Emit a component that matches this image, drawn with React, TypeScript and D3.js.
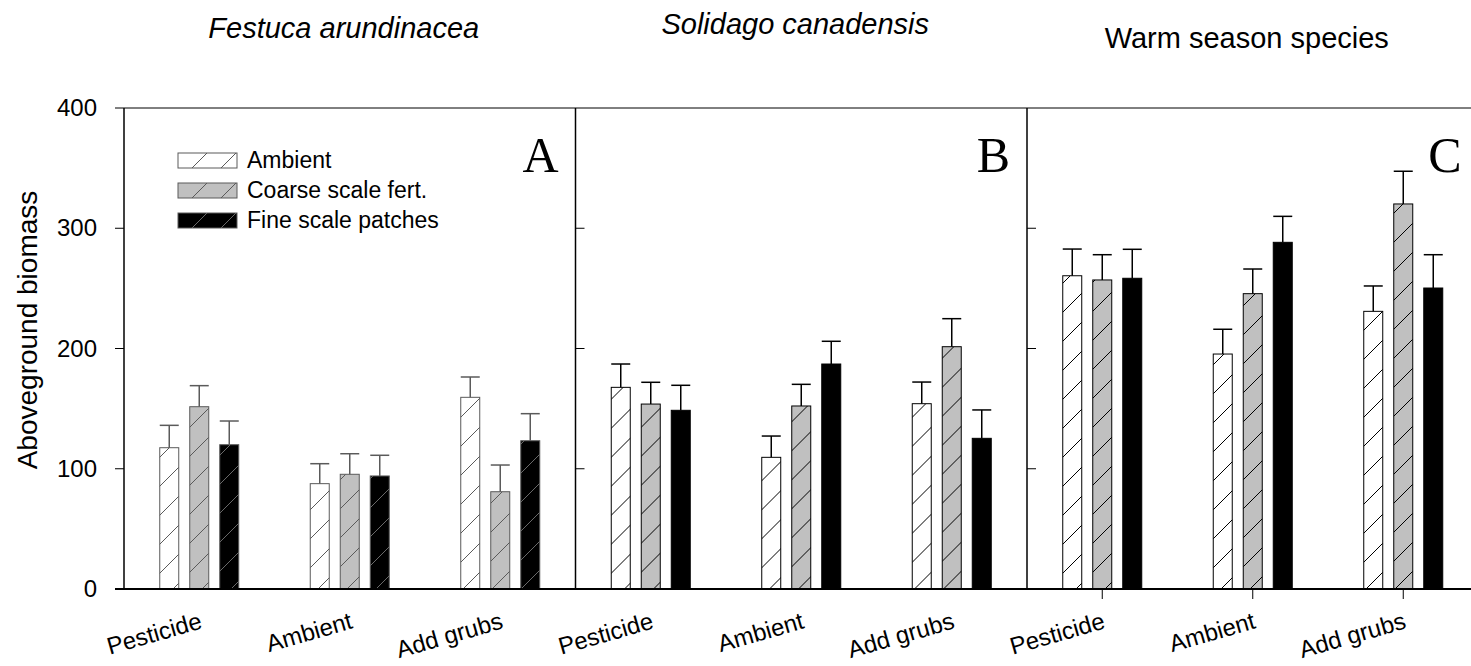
import * as d3 from 'd3';
import { useEffect, useRef } from 'react';

const panelNames = ['A', 'B', 'C'];
const panelTitles = ['Festuca arundinacea', 'Solidago canadensis', 'Warm season species'];
const treatments = ['Pesticide', 'Ambient', 'Add grubs'];
const seriesNames = ['Ambient', 'Coarse scale fert.', 'Fine scale patches'];
const yTicks = [0, 100, 200, 300, 400];

// rows = series (Ambient, Coarse, Fine), columns = treatments
const festucaMeans = [
  [117.5, 87.6, 159.4],
  [151.6, 95.4, 80.9],
  [120, 94, 123.3],
];
const festucaSE = [
  [18.6, 16.6, 16.9],
  [17.5, 17.1, 22.2],
  [19.7, 17.2, 22.5],
];
const solidagoMeans = [
  [167.7, 109.5, 154.1],
  [153.8, 152.2, 201.5],
  [148.6, 187.1, 125.3],
];
const solidagoSE = [
  [19.4, 17.7, 18],
  [18.1, 18, 23.3],
  [20.8, 18.9, 23.6],
];
const warmMeans = [
  [260.5, 195.4, 230.9],
  [257, 245.6, 320.2],
  [258.4, 288.3, 250.3],
];
const warmSE = [
  [22.2, 20.6, 21.1],
  [21, 20.5, 27.2],
  [24.1, 21.6, 27.7],
];

const allMeans = [festucaMeans, solidagoMeans, warmMeans];
const allSE = [festucaSE, solidagoSE, warmSE];

const fills = ['#ffffff', '#c0c0c0', '#000000'];

const App = () => {
  const ref = useRef<SVGSVGElement>(null);

  useEffect(() => {
    const svg = d3.select(ref.current);
    svg.selectAll('*').remove();

    const top = 108;
    const bottom = 589;
    const left = 124;
    const panelW = 451.5;
    const font = 'Arial, "Liberation Sans", sans-serif';

    const y = d3.scaleLinear().domain([0, 400]).range([bottom, top]);
    const xPanel = d3.scaleBand().domain(panelNames).range([left, left + 3 * panelW]);
    const xGroup = d3.scaleBand().domain(treatments).range([0, panelW]);
    const xBar = d3.scaleBand().domain(seriesNames).range([-39.5, 39.5]).paddingInner(0.367);

    // hatch patterns: panel A drawn in grey, B and C in black
    const defs = svg.append('defs');
    const lineCols = ['#5a5a5a', '#000', '#000'];
    panelNames.forEach((p, pi) => {
      fills.forEach((f, si) => {
        const pat = defs
          .append('pattern')
          .attr('id', `h-${p}-${si}`)
          .attr('patternUnits', 'userSpaceOnUse')
          .attr('width', 29)
          .attr('height', 29);
        pat.append('rect').attr('width', 29).attr('height', 29).attr('fill', f);
        pat
          .append('path')
          .attr('d', 'M0,29L29,0M-5,5L5,-5M24,34L34,24')
          .attr('stroke', si === 2 && pi > 0 ? '#000' : si === 2 ? '#6a6a6a' : lineCols[pi])
          .attr('stroke-width', 1);
      });
    });

    // titles
    const titleY = [38, 34, 48];
    panelNames.forEach((p, i) => {
      svg
        .append('text')
        .attr('x', xPanel(p)! + panelW / 2 - 6)
        .attr('y', titleY[i])
        .attr('text-anchor', 'middle')
        .attr('font-family', font)
        .attr('font-size', 29)
        .attr('font-style', i < 2 ? 'italic' : 'normal')
        .text(panelTitles[i]);
    });

    panelNames.forEach((p, pi) => {
      const x0 = xPanel(p)!;
      const g = svg.append('g').attr('transform', `translate(${x0},0)`);
      const strokeCol = pi === 0 ? '#5a5a5a' : '#000';

      // bars
      seriesNames.forEach((s, si) => {
        treatments.forEach((t, ti) => {
          const cx = xGroup(t)! + xGroup.bandwidth() / 2;
          const bx = cx + xBar(s)!;
          const bw = xBar.bandwidth();
          const m = allMeans[pi][si][ti];
          const se = allSE[pi][si][ti];
          g.append('rect')
            .attr('x', bx)
            .attr('y', y(m))
            .attr('width', bw)
            .attr('height', bottom - y(m))
            .attr('fill', `url(#h-${p}-${si})`)
            .attr('stroke', strokeCol)
            .attr('stroke-width', 1);
          const mx = bx + bw / 2;
          g.append('line')
            .attr('x1', mx)
            .attr('x2', mx)
            .attr('y1', y(m))
            .attr('y2', y(m + se))
            .attr('stroke', strokeCol)
            .attr('stroke-width', 1.5);
          g.append('line')
            .attr('x1', bx)
            .attr('x2', bx + bw)
            .attr('y1', y(m + se))
            .attr('y2', y(m + se))
            .attr('stroke', strokeCol)
            .attr('stroke-width', 1.5);
        });
      });

      // left axis line of each panel
      g.append('line')
        .attr('x1', 0)
        .attr('x2', 0)
        .attr('y1', top)
        .attr('y2', bottom)
        .attr('stroke', '#000')
        .attr('stroke-width', 1.5);

      // y ticks: outward on the first panel, inward on the others
      yTicks.forEach((v) => {
        if (pi > 0 && (v === 0 || v === 400)) return;
        g.append('line')
          .attr('x1', pi === 0 ? -9 : 0)
          .attr('x2', pi === 0 ? 0 : 9)
          .attr('y1', y(v))
          .attr('y2', y(v))
          .attr('stroke', '#000')
          .attr('stroke-width', 1);
      });

      // x tick marks only on the last panel
      if (pi === 2) {
        treatments.forEach((t) => {
          const cx = xGroup(t)! + xGroup.bandwidth() / 2;
          g.append('line')
            .attr('x1', cx)
            .attr('x2', cx)
            .attr('y1', bottom)
            .attr('y2', bottom + 10)
            .attr('stroke', '#000')
            .attr('stroke-width', 1);
        });
      }

      // category labels
      treatments.forEach((t) => {
        const cx = xGroup(t)! + xGroup.bandwidth() / 2;
        g.append('text')
          .attr('transform', `translate(${cx + 4},${628}) rotate(-16)`)
          .attr('text-anchor', 'end')
          .attr('font-family', font)
          .attr('font-size', 24)
          .text(t);
      });

      // panel letter
      g.append('text')
        .attr('x', panelW - 17)
        .attr('y', 172)
        .attr('text-anchor', 'end')
        .attr('font-family', '"Liberation Serif", "Times New Roman", serif')
        .attr('font-size', 50)
        .text(p);
    });

    // y tick labels
    yTicks.forEach((v) => {
      svg
        .append('text')
        .attr('x', 97)
        .attr('y', y(v) + 8)
        .attr('text-anchor', 'end')
        .attr('font-family', font)
        .attr('font-size', 24)
        .text(v);
    });

    // frame: top border and bottom axis
    svg
      .append('line')
      .attr('x1', left)
      .attr('x2', left + 3 * panelW)
      .attr('y1', top)
      .attr('y2', top)
      .attr('stroke', '#000')
      .attr('stroke-width', 1);
    svg
      .append('line')
      .attr('x1', left - 9)
      .attr('x2', left + 3 * panelW)
      .attr('y1', bottom)
      .attr('y2', bottom)
      .attr('stroke', '#000')
      .attr('stroke-width', 2.2);

    // y axis title
    svg
      .append('text')
      .attr('transform', `translate(37,330) rotate(-90)`)
      .attr('text-anchor', 'middle')
      .attr('font-family', font)
      .attr('font-size', 28)
      .text('Aboveground biomass');

    // legend
    const lg = svg.append('g').attr('transform', 'translate(178,153)');
    seriesNames.forEach((s, si) => {
      const row = lg.append('g').attr('transform', `translate(0,${si * 30})`);
      row
        .append('rect')
        .attr('width', 59)
        .attr('height', 15)
        .attr('fill', `url(#h-A-${si})`)
        .attr('stroke', '#5a5a5a')
        .attr('stroke-width', 1);
      row
        .append('text')
        .attr('x', 69)
        .attr('y', 15)
        .attr('font-family', font)
        .attr('font-size', 23)
        .text(s);
    });
  }, []);

  return (
    <svg
      ref={ref}
      width={1471}
      height={666}
      style={{ position: 'absolute', left: 0, top: 0, background: '#fff' }}
    />
  );
};

export default App;
